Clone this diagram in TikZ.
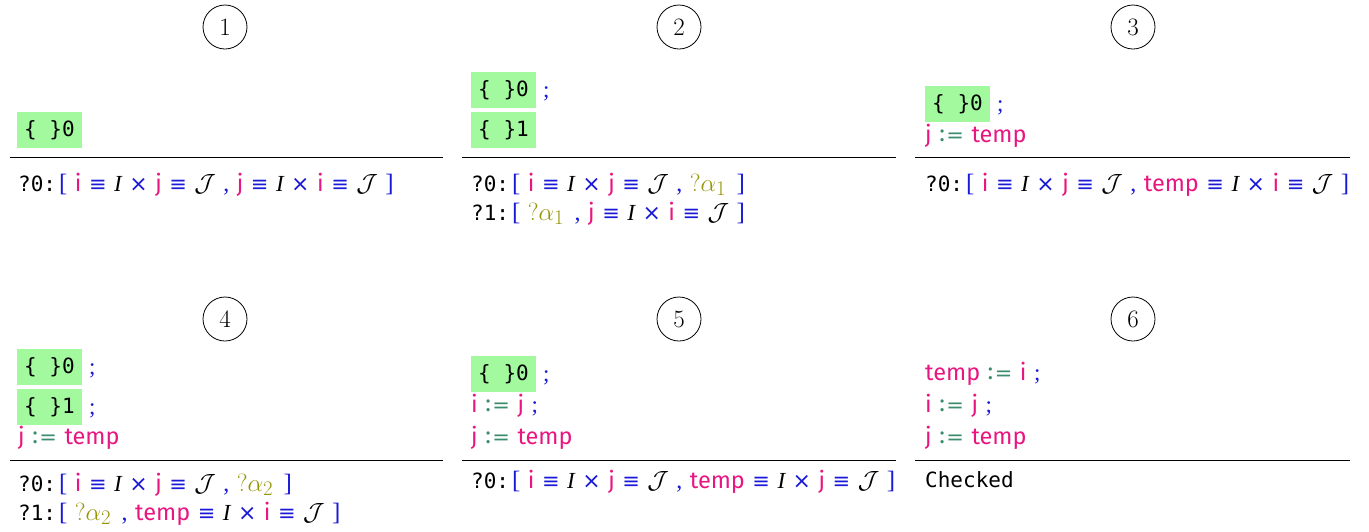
\documentclass[tikz,border=0pt]{standalone}
\usepackage{mathtools}
\usepackage{fontspec}
\newfontfamily\vfont{Fira Sans}
\newfontfamily\mfont{DejaVu Sans Mono}
\newfontfamily\ifont{Liberation Serif}
\newfontfamily\sfont{DejaVu Sans}
\definecolor{kw}{RGB}{25,25,215}
\definecolor{var}{RGB}{232,22,128}
\definecolor{hole}{RGB}{150,150,10}
\definecolor{asg}{RGB}{60,140,110}
\definecolor{holebg}{RGB}{163,250,158}
\newcommand{\g}{\hspace{7.5pt}}
\newcommand{\V}[1]{\textcolor{var}{{\vfont\fontsize{23.5}{26}\selectfont #1}}}
\newcommand{\EQ}{\textcolor{kw}{{\sfont\fontsize{21}{22}\selectfont ≡}}}
\newcommand{\TM}{\textcolor{kw}{{\sfont\fontsize{22}{22}\selectfont ×}}}
\newcommand{\CM}{\textcolor{kw}{{\ifont\fontsize{24}{26}\selectfont ,}}}
\newcommand{\LB}{\hspace{3pt}\textcolor{kw}{{\ifont\fontsize{25}{26}\selectfont [}}}
\newcommand{\RB}{\textcolor{kw}{{\ifont\fontsize{25}{26}\selectfont ]}}}
\newcommand{\II}{{\ifont\itshape\fontsize{23}{26}\selectfont I}}
\newcommand{\JJ}{{\fontsize{24.88}{28}\selectfont$\mathcal{J}$}}
\newcommand{\SC}{\textcolor{kw}{{\ifont\fontsize{23}{26}\selectfont ;}}}
\newcommand{\AS}{\g\textcolor{asg}{{\vfont\fontsize{23.5}{26}\selectfont\raisebox{1pt}{:}\kern1.5pt{\sfont\fontsize{21}{22}\selectfont =}}}\g}
\newcommand{\HA}[1]{\textcolor{hole}{{\fontsize{24.88}{28}\selectfont$?\alpha_{#1}$}}\hspace{3pt}}
\newcommand{\PV}[1]{{\mfont ?#1:}}
\newcommand{\firstpair}{\V{i}\g\EQ\g\II\g\TM\g\V{j}\g\EQ\g\JJ}
\tikzset{
  hbox/.style={fill=holebg, minimum width=65pt, minimum height=36pt, inner sep=0pt,
    font=\mfont\fontsize{21}{25}\selectfont, text=black},
  code/.style={anchor=base west, inner sep=0pt, font=\fontsize{21}{25}\selectfont},
  sep/.style={line width=0.8pt},
  num/.style={circle, draw, line width=0.8pt, minimum size=44pt, inner sep=0pt,
    font=\fontsize{25}{28}\selectfont},
}
\begin{document}
\begin{tikzpicture}[x=1pt,y=-1pt]
\useasboundingbox (0,0) rectangle (1369,531);
% circles
\node[num] (n1) at (225,27) {1};
\node[num] (n2) at (679,27) {2};
\node[num] (n3) at (1133,27) {3};
\node[num] (n4) at (225,319) {4};
\node[num] (n5) at (679,319) {5};
\node[num] (n6) at (1133,319) {6};
% panel 1
\node[hbox] (p1h0) at (49.5,130) {\{ \}0};
\draw[sep] (10,157) -- (443,157);
\node[code] (p1g0) at (18,191) {\PV{0}\LB\g\firstpair\g\CM\g\V{j}\g\EQ\g\II\g\TM\g\V{i}\g\EQ\g\JJ\g\RB};
% panel 2
\node[hbox] (p2h0) at (503.5,90) {\{ \}0};
\node[code] (p2s0) at (543,97) {\SC};
\node[hbox] (p2h1) at (503.5,130) {\{ \}1};
\draw[sep] (462,157) -- (896,157);
\node[code] (p2g0) at (471,191) {\PV{0}\LB\g\firstpair\g\CM\g\HA{1}\g\RB};
\node[code] (p2g1) at (471,220) {\PV{1}\LB\g\HA{1}\g\CM\g\V{j}\g\EQ\g\II\g\TM\g\V{i}\g\EQ\g\JJ\g\RB};
% panel 3
\node[hbox] (p3h0) at (957.5,104) {\{ \}0};
\node[code] (p3s0) at (997,111) {\SC};
\node[code] (p3c1) at (925,142) {\V{j}\AS\V{temp}};
\draw[sep] (915,157) -- (1350,157);
\node[code] (p3g0) at (925,191) {\PV{0}\LB\g\firstpair\g\CM\g\V{temp}\g\EQ\g\II\g\TM\g\V{i}\g\EQ\g\JJ\g\RB};
% panel 4
\node[hbox] (p4h0) at (49.5,367) {\{ \}0};
\node[code] (p4s0) at (89,374) {\SC};
\node[hbox] (p4h1) at (49.5,407) {\{ \}1};
\node[code] (p4s1) at (89,414) {\SC};
\node[code] (p4c2) at (18,444) {\V{j}\AS\V{temp}};
\draw[sep] (10,460) -- (443,460);
\node[code] (p4g0) at (18,491) {\PV{0}\LB\g\firstpair\g\CM\g\HA{2}\g\RB};
\node[code] (p4g1) at (18,520) {\PV{1}\LB\g\HA{2}\g\CM\g\V{temp}\g\EQ\g\II\g\TM\g\V{i}\g\EQ\g\JJ\g\RB};
% panel 5
\node[hbox] (p5h0) at (503.5,374) {\{ \}0};
\node[code] (p5s0) at (543,381) {\SC};
\node[code] (p5c1) at (471,412) {\V{i}\AS\V{j}\g\SC};
\node[code] (p5c2) at (471,444) {\V{j}\AS\V{temp}};
\draw[sep] (462,460) -- (896,460);
\node[code] (p5g0) at (471,488) {\PV{0}\LB\g\firstpair\g\CM\g\V{temp}\g\EQ\g\II\g\TM\g\V{j}\g\EQ\g\JJ\g\RB};
% panel 6
\node[code] (p6c0) at (925,380) {\V{temp}\AS\V{i}\g\SC};
\node[code] (p6c1) at (925,412) {\V{i}\AS\V{j}\g\SC};
\node[code] (p6c2) at (925,444) {\V{j}\AS\V{temp}};
\draw[sep] (915,460) -- (1350,460);
\node[code] (p6g0) at (925,487) {\mfont Checked};
\end{tikzpicture}
\end{document}
